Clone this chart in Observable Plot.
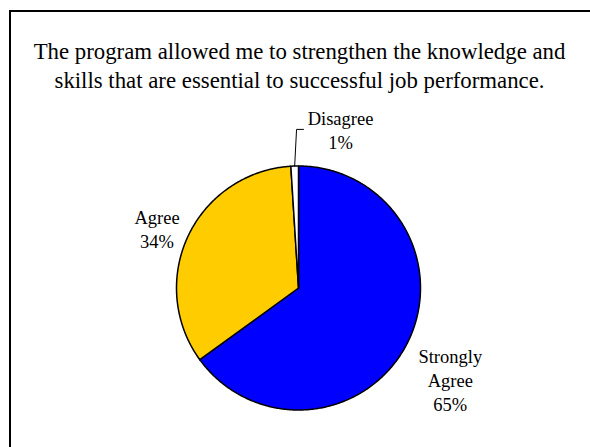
<!DOCTYPE html>
<html>
<head>
<meta charset="utf-8">
<script src="https://cdn.jsdelivr.net/npm/d3@7"></script>
<script src="https://cdn.jsdelivr.net/npm/@observablehq/plot@0.6"></script>
<style>
  html, body { margin: 0; padding: 0; background: #fff; overflow: hidden; }
  #wrap { position: relative; width: 590px; height: 447px; overflow: hidden; }
  #frame { position: absolute; left: 9px; top: 10px; width: 640px; height: 500px; border: 2px solid #000; box-sizing: border-box; pointer-events: none; }
  #chart { position: absolute; left: 0; top: 0; }
  #chart svg, #chart svg text { font-family: "Liberation Serif", "Times New Roman", serif !important; }
</style>
</head>
<body>
<div id="wrap"><div id="chart"></div><div id="frame"></div></div>
<script>
// ---- data ----
const titleLines = ["The program allowed me to strengthen the knowledge and", "skills that are essential to successful job performance."];
const categories = ["Strongly Agree", "Agree", "Disagree"];
const values = [65, 34, 1];
const labelText = ["Strongly\nAgree\n65%", "Agree\n34%", "Disagree\n1%"];
const colors = ["#0000FF", "#FFCC00", "#FFFFFF"];

// ---- layout (not data) ----
const cx = 298, cy = 287.5, R = 122;
const labelAngleNudge = [3.9, -2.2, 16.6];   // degrees
const labelRadius = [1.45, 1.26, 1.348];      // in radii
const serif = "'Liberation Serif', 'Times New Roman', serif";

const arcs = d3.pie().sort(null).startAngle(0).endAngle(2 * Math.PI)(values);

const slices = arcs.map((a, i) => {
  const pts = [{x: 0, y: 0, k: categories[i]}];
  const n = Math.max(4, Math.ceil((a.endAngle - a.startAngle) / 0.01));
  for (let j = 0; j <= n; j++) {
    const t = a.startAngle + (a.endAngle - a.startAngle) * j / n;
    pts.push({x: Math.sin(t), y: Math.cos(t), k: categories[i]});
  }
  pts.push({x: 0, y: 0, k: categories[i]});
  return pts;
});

const labels = arcs.map((a, i) => {
  const mid = (a.startAngle + a.endAngle) / 2 + labelAngleNudge[i] * Math.PI / 180;
  return {x: Math.sin(mid) * labelRadius[i], y: Math.cos(mid) * labelRadius[i], text: labelText[i]};
});

// leader line for the small slice
const small = arcs[2];
const smallMid = (small.startAngle + small.endAngle) / 2;
const leader = [
  {x: Math.sin(smallMid), y: Math.cos(smallMid)},
  {x: -0.016, y: 1.30},
  {x: 0.041, y: 1.30}
];

const marks = [];
slices.forEach((pts, i) => {
  marks.push(Plot.line(pts, {x: "x", y: "y", fill: colors[i], stroke: "#000", strokeWidth: 1.5, strokeLinejoin: "round"}));
});
marks.push(Plot.line(leader, {x: "x", y: "y", stroke: "#000", strokeWidth: 1}));
marks.push(Plot.text(labels, {x: "x", y: "y", text: "text", fontFamily: serif, fontSize: 18.5, lineHeight: 1.3, lineAnchor: "middle", textAnchor: "middle", fill: "#000"}));
marks.push(Plot.text([titleLines.join("\n")], {frameAnchor: "top", dy: 38, fontFamily: serif, fontSize: 22.8, lineHeight: 1.28, lineAnchor: "top", textAnchor: "middle", dx: 4, fill: "#000"}));

const chart = Plot.plot({
  width: 590,
  height: 447,
  margin: 0,
  style: {fontFamily: serif, background: "transparent", overflow: "visible"},
  x: {domain: [-1, 1], range: [cx - R, cx + R], axis: null},
  y: {domain: [-1, 1], range: [cy + R, cy - R], axis: null},
  marks
});
document.getElementById("chart").appendChild(chart);
</script>
</body>
</html>
